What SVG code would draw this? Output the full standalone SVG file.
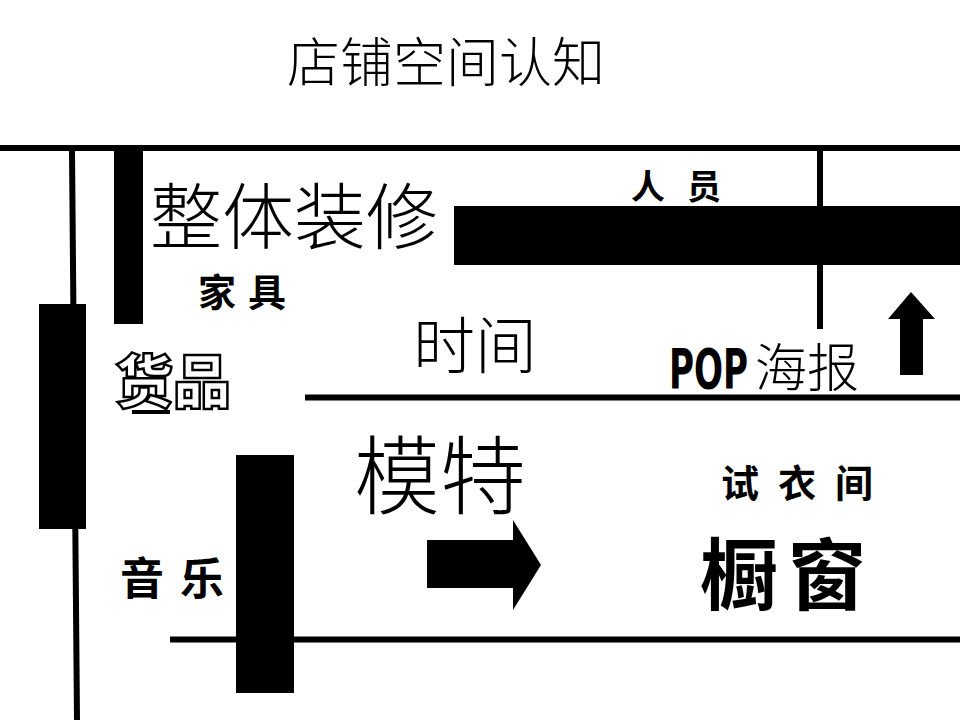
<svg xmlns="http://www.w3.org/2000/svg" width="960" height="720" viewBox="0 0 960 720">
<style>
.song{font-family:"Noto Sans CJK SC","Noto Sans CJK TC",sans-serif;font-weight:300;fill:#000}
.cal{font-family:"Noto Sans CJK SC","Noto Sans CJK TC",sans-serif;font-weight:700;fill:#000}
.bar{fill:#000}
.wall{stroke:#000;stroke-width:6;fill:none}
</style>
<rect width="960" height="720" fill="#fff"/>
<g id="title"><text class="song" x="287" y="82" font-size="53">店铺空间认知</text></g>
<g id="walls">
<line class="wall" x1="0" y1="148" x2="960" y2="148"/>
<line class="wall" x1="72" y1="151" x2="77" y2="720" stroke-width="5"/>
<line class="wall" x1="820" y1="151" x2="820" y2="329" stroke-width="5"/>
<line class="wall" x1="305" y1="397.5" x2="960" y2="397.5" stroke-width="5"/>
<line class="wall" x1="170" y1="639.5" x2="960" y2="639.5"/>
</g>
<g id="blocks">
<rect class="bar" x="39" y="304" width="47" height="225"/>
<rect class="bar" x="114" y="150" width="29" height="174"/>
<rect class="bar" x="454" y="206" width="506" height="59"/>
<rect class="bar" x="236" y="455" width="58" height="238"/>
</g>
<g id="arrows">
<polygon class="bar" points="911,292 935,319 923,319 923,375 900,375 900,319 888,319"/>
<polygon class="bar" points="427,540 513,540 513,520 541,565 513,610 513,588 427,588"/>
</g>
<g id="zhengti"><text class="song" x="150" y="243" font-size="72">整体装修</text></g>
<g id="jiaju"><text class="cal" x="198" y="306" font-size="38" letter-spacing="12">家具</text></g>
<g id="huopin">
<text x="115" y="403" font-size="58" font-family="'Noto Sans CJK SC',sans-serif" font-weight="900" fill="#fff" stroke="#000" stroke-width="2.5">货品</text>
<rect class="bar" x="132" y="410" width="38" height="4"/>
</g>
<g id="shijian"><text class="song" x="413" y="369" font-size="62">时间</text></g>
<g id="renyuan"><text class="cal" x="631" y="199" font-size="34" letter-spacing="22">人员</text></g>
<g id="pop">
<text transform="translate(669,388) scale(0.95,1.38)" x="0" y="0" font-size="40" font-family="'DejaVu Sans Condensed','DejaVu Sans',sans-serif" font-weight="700">POP</text>
<text class="song" x="755" y="387" font-size="52">海报</text>
</g>
<g id="mote"><text class="song" x="354" y="508" font-size="86">模特</text></g>
<g id="shiyijian"><text class="cal" x="721" y="497" font-size="38" letter-spacing="19">试衣间</text></g>
<g id="yinyue"><text class="cal" x="120" y="595" font-size="44" letter-spacing="16">音乐</text></g>
<g id="chuchuang"><text class="cal" x="700" y="604" font-size="78" letter-spacing="10">橱窗</text></g>
</svg>
